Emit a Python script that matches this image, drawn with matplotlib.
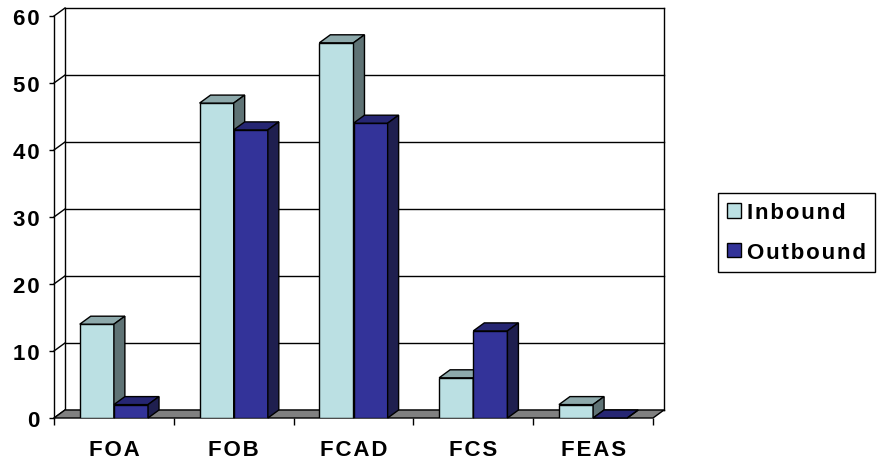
import matplotlib
matplotlib.use('Agg')
import matplotlib.pyplot as plt
from matplotlib.patches import Polygon, Patch

categories = ['FOA', 'FOB', 'FCAD', 'FCS', 'FEAS']
inbound = [14, 47, 56, 6, 2]
outbound = [2, 43, 44, 13, 0]
series = ['Inbound', 'Outbound']
yticks = [0, 10, 20, 30, 40, 50, 60]

plt.rcParams['font.family'] = ['Liberation Sans', 'DejaVu Sans']
plt.rcParams['font.weight'] = 'bold'


def spaced(s):
    # old Excel charts put a little air between letters
    return '\u200a'.join(s)


fig = plt.figure(figsize=(8.8, 4.64), dpi=100)
ax = fig.add_axes([54 / 880, 45 / 464, 599 / 880, 402 / 464])
x0, x1 = -0.5, len(categories) - 0.5
ymax = yticks[-1]
ax.set_xlim(x0, x1)
ax.set_ylim(0, ymax)
for s in ax.spines.values():
    s.set_visible(False)

# depth of the fake 3d box, in data units
dx = 11 / 120
dy = 8 / 6.7
w = 0.285

# back wall, side wall and floor
for v in yticks:
    ax.plot([x0 + dx, x1 + dx], [v + dy, v + dy], color='black', lw=1, clip_on=False, zorder=1)
    ax.plot([x0, x0 + dx], [v, v + dy], color='black', lw=1, clip_on=False, zorder=1)
ax.plot([x0 + dx, x0 + dx], [dy, ymax + dy], color='black', lw=1, clip_on=False, zorder=1)
ax.plot([x1 + dx, x1 + dx], [dy, ymax + dy], color='black', lw=1, clip_on=False, zorder=1)
ax.plot([x0, x0], [0, ymax], color='black', lw=1, clip_on=False, zorder=1)
ax.add_patch(Polygon([(x0, 0), (x1, 0), (x1 + dx, dy), (x0 + dx, dy)],
                     closed=True, fc='#808080', ec='black', lw=1, clip_on=False, zorder=2))


def bar3d(left, h, front, top, side):
    ax.bar(left, h, width=w, align='edge', color=front, edgecolor='black', lw=1, zorder=3)
    ax.add_patch(Polygon([(left, h), (left + w, h), (left + w + dx, h + dy), (left + dx, h + dy)],
                         closed=True, fc=top, ec='black', lw=1, clip_on=False, zorder=3))
    ax.add_patch(Polygon([(left + w, 0), (left + w + dx, dy), (left + w + dx, h + dy), (left + w, h)],
                         closed=True, fc=side, ec='black', lw=1, clip_on=False, zorder=3))


for i in range(len(categories)):
    bar3d(i - w, inbound[i], '#BBE0E3', '#8DA9AB', '#5F7375')
    bar3d(i, outbound[i], '#333399', '#262673', '#1F1F4F')

fs = 16
ax.set_yticks(yticks, [spaced(str(v)) for v in yticks])
ax.tick_params(axis='y', length=3.6, width=1, pad=6.5, labelsize=fs)
ax.set_xticks(range(len(categories)), [spaced(c) for c in categories])
ax.set_xticks([x0 + k for k in range(len(categories) + 1)], minor=True)
ax.tick_params(axis='x', which='major', length=0, pad=15, labelsize=fs)
ax.tick_params(axis='x', which='minor', length=5, width=1)

handles = [Patch(fc='#BBE0E3', ec='black', lw=1), Patch(fc='#333399', ec='black', lw=1)]
leg = ax.legend(handles, [spaced(s) for s in series], loc='center left',
                bbox_to_anchor=(718 / 880, 0.497), bbox_transform=fig.transFigure,
                fancybox=False, edgecolor='black', framealpha=1, fontsize=fs,
                handlelength=0.65, handleheight=0.65, handletextpad=0.25,
                labelspacing=0.85, borderpad=0.4, borderaxespad=0)
leg.get_frame().set_linewidth(1)

fig.savefig('out.png', dpi=100)
